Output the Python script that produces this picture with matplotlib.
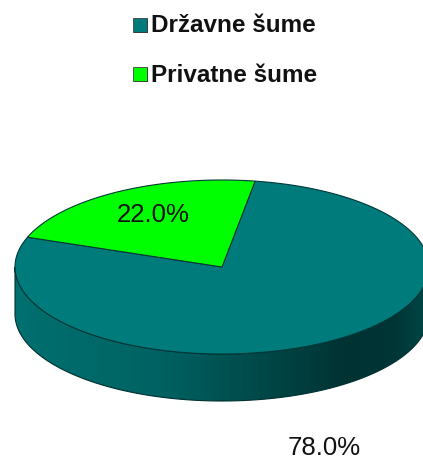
import numpy as np
import matplotlib
matplotlib.use("Agg")
import matplotlib.pyplot as plt
from matplotlib.patches import Polygon, Rectangle
from matplotlib.colors import LinearSegmentedColormap

# ---- data ----
categories = ["Državne šume", "Privatne šume"]
values = [78.0, 22.0]
labels = ["78.0%", "22.0%"]
colors = ["#007b7b", "#00ff00"]

W, H = 423, 460
fig = plt.figure(figsize=(W / 100, H / 100), dpi=100)
ax = fig.add_axes([0, 0, 1, 1])
ax.set_xlim(0, W)
ax.set_ylim(H, 0)
ax.axis("off")

plt.rcParams['font.family'] = ['Liberation Sans', 'DejaVu Sans']

# pie geometry (pixel space)
cx, cy, rx, ry, depth = 222, 268, 207, 87, 47
start = 160.0

def ell(t, dy=0.0):
    t = np.radians(t)
    return np.column_stack([cx + rx * np.cos(t), cy - ry * np.sin(t) + dy])

# side (front half)
ts = np.linspace(180, 360, 200)
side = np.vstack([ell(ts), ell(ts[::-1], depth)])
sp = Polygon(side, closed=True, facecolor="none", edgecolor="#003030", lw=0.8, zorder=2)
ax.add_patch(sp)
cmap = LinearSegmentedColormap.from_list(
    "side", [(0.0, "#007070"), (0.35, "#006262"), (0.6, "#004848"),
             (0.8, "#003232"), (0.92, "#003636"), (1.0, "#004848")])
grad = np.linspace(0, 1, 256).reshape(1, -1)
im = ax.imshow(grad, cmap=cmap, extent=[cx - rx, cx + rx, cy + ry + depth + 2, cy - 5],
               aspect="auto", zorder=1)
im.set_clip_path(sp)
ax.set_xlim(0, W)
ax.set_ylim(H, 0)

# top wedges
total = sum(values)
a0 = start
for v, c in zip(values, colors):
    a1 = a0 + v / total * 360.0
    tt = np.linspace(a0, a1, 200)
    pts = np.vstack([[cx, cy], ell(tt)])
    ax.add_patch(Polygon(pts, closed=True, facecolor=c, edgecolor="#003838",
                         lw=0.8, zorder=3))
    a0 = a1

# value labels
ax.text(324, 448, labels[0], ha="center", va="center", fontsize=18.5, color="#111111", zorder=5)
ax.text(153, 215, labels[1], ha="center", va="center", fontsize=18.5, color="#111111", zorder=5)

# legend
leg_y = [26, 75]
for name, c, y in zip(categories, colors, leg_y):
    ax.add_patch(Rectangle((134, y - 6), 14, 14, facecolor="#000000", lw=0, zorder=4))
    ax.add_patch(Rectangle((133, y - 7), 14, 14, facecolor=c, edgecolor="#404040",
                           lw=0.6, zorder=5))
    ax.text(151, y, name, ha="left", va="center", fontsize=17.5, fontweight="bold",
            color="#111111", zorder=5)

fig.savefig("out.png", dpi=100)
